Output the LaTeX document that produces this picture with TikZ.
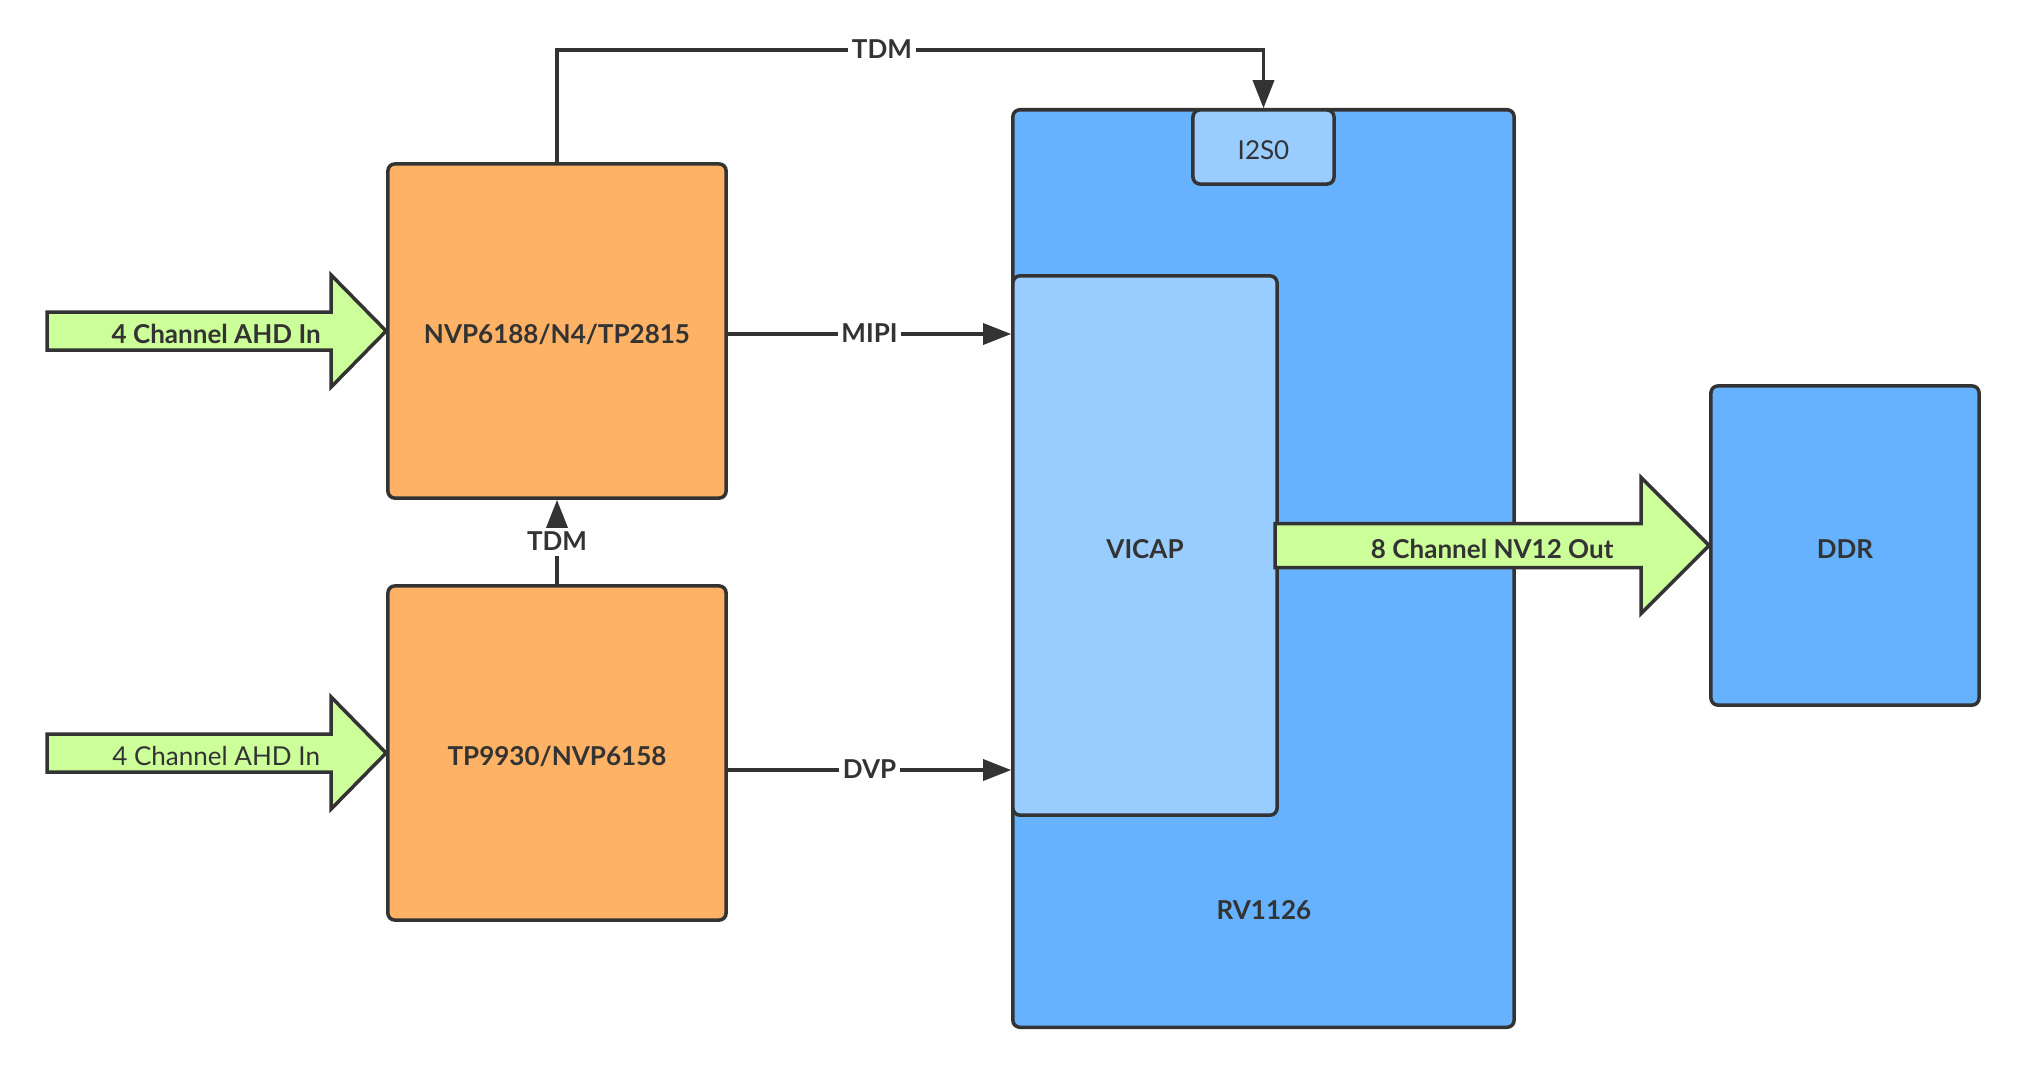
\documentclass[tikz,border=0pt]{standalone}
\usepackage{fontspec}
\setmainfont{Lato}
\usetikzlibrary{arrows.meta,calc}
\definecolor{ink}{HTML}{333333}
\definecolor{chip}{HTML}{FEB266}
\definecolor{soc}{HTML}{66B2FF}
\definecolor{sub}{HTML}{99CCFF}
\definecolor{flow}{HTML}{CCFF99}

\begin{document}
\begin{tikzpicture}[x=0.01cm, y=-0.01cm,
        bold/.style={font=\fontsize{7.4}{9}\selectfont\bfseries, text=ink, text height=7.2pt, text depth=0pt},
        thin/.style={font=\fontsize{7.4}{9}\selectfont, text=ink, text height=7.2pt, text depth=0pt},
        box/.style={draw=ink, line width=1pt, rounded corners=2pt, inner sep=0pt, bold},
        conn/.style={draw=ink, line width=1pt, -{Triangle[length=8pt,width=6pt]}},
        tag/.style={fill=white, inner sep=1pt, bold, text height=5.6pt, text depth=0.6pt},
        fat/.style={draw=ink, line width=1pt, fill=flow, line join=miter}]

        \useasboundingbox (0, 0) rectangle (2029, 1078);

        \node[box, fill=chip, minimum width=3.38cm, minimum height=3.34cm] (nvp) at (557, 331) {NVP6188/N4/TP2815};
        \node[box, fill=chip, minimum width=3.38cm, minimum height=3.34cm] (tp) at (557, 753) {TP9930/NVP6158};

        \node[box, fill=soc, minimum width=5.01cm, minimum height=9.17cm] (rv) at (1263.5, 568.5) {};
        \node[bold] (rvname) at (1264, 907) {RV1126};
        \node[box, fill=sub, minimum width=1.41cm, minimum height=0.74cm, thin] (i2s) at (1263.5, 147) {I2S0};
        \node[box, fill=sub, minimum width=2.64cm, minimum height=5.39cm] (vicap) at (1145, 545.5) {VICAP};
        \node[box, fill=soc, minimum width=2.68cm, minimum height=3.19cm] (ddr) at (1845, 545.5) {DDR};

        % inputs
        \draw[fat] (nvp.west) -- ++(-55, -56) -- ++(0, 37) -- ++(-284, 0) -- ++(0, 38) -- ++(284, 0) -- ++(0, 37) -- cycle;
        \node[bold] (ahda) at ($(nvp.west)+(-170, 0)$) {4 Channel AHD In};
        \draw[fat] (tp.west) -- ++(-55, -56) -- ++(0, 37) -- ++(-284, 0) -- ++(0, 38) -- ++(284, 0) -- ++(0, 37) -- cycle;
        \node[thin] (ahdb) at ($(tp.west)+(-170, 0)$) {4 Channel AHD In};

        % output
        \draw[fat] (ddr.west) -- ++(-68, -68) -- ++(0, 46) -- ++(-366, 0) -- ++(0, 44) -- ++(366, 0) -- ++(0, 46) -- cycle;
        \node[bold] (nvout) at ($(ddr.west)+(-217, 0)$) {8 Channel NV12 Out};

        \coordinate (mipi) at ($(nvp.east)+(0, 3)$);
        \coordinate (dvp) at ($(tp.east)+(0, 17)$);
        \draw[conn] (nvp.north) -- (nvp.north |- 0, 50) -| node[tag, pos=0.23]{TDM} (i2s.north);
        \draw[conn] (tp.north) -- node[tag]{TDM} (nvp.south);
        \draw[conn] (mipi) -- node[tag]{MIPI} (vicap.west |- mipi);
        \draw[conn] (dvp) -- node[tag]{DVP} (vicap.west |- dvp);

    \end{tikzpicture}
\end{document}
